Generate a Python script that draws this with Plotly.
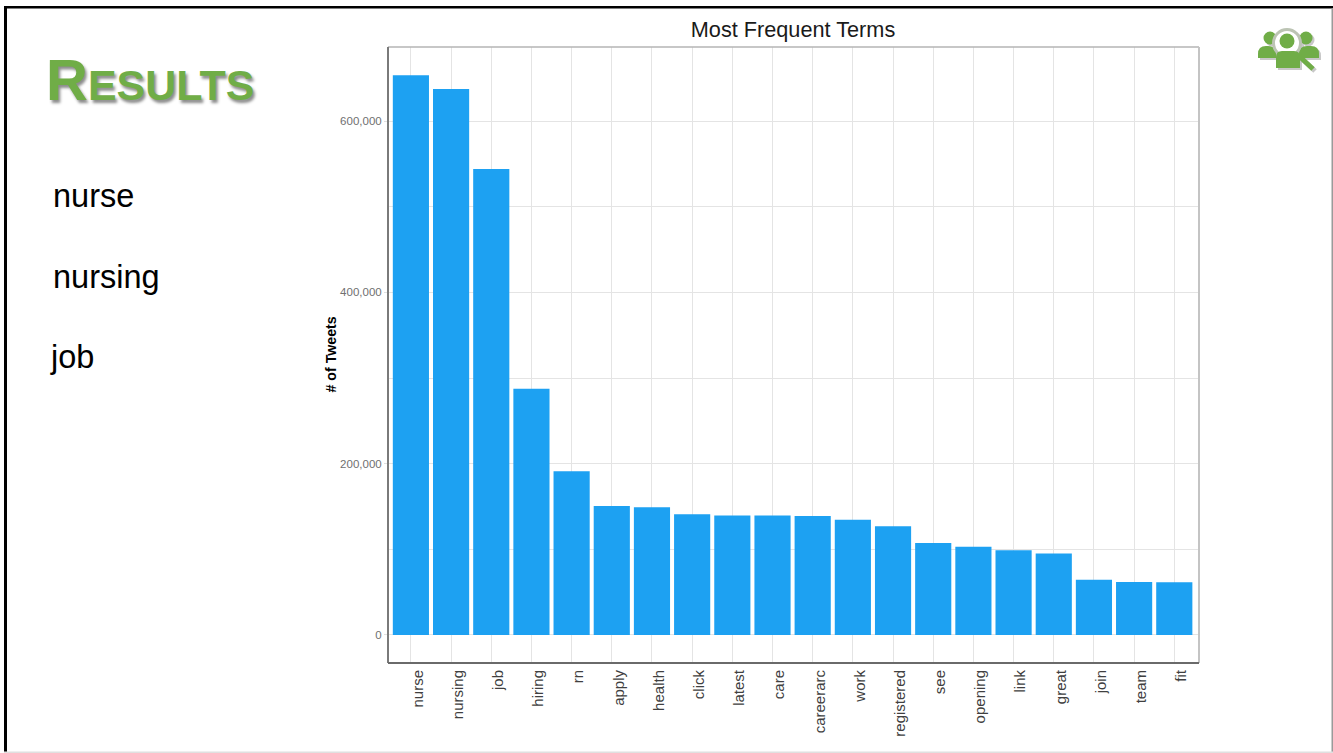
import plotly.graph_objects as go

W, H = 1333, 753
# Plot rectangle in page pixels
L, R, T, B = 388, 1199, 47, 663

terms = ["nurse", "nursing", "job", "hiring", "rn", "apply", "health", "click", "latest", "care",
         "careerarc", "work", "registered", "see", "opening", "link", "great", "join", "team", "fit"]
tweets = [653500, 637500, 544000, 287500, 191000, 150500, 149000, 141000, 139500, 139500,
          139000, 134500, 127000, 107500, 103000, 99000, 95000, 64500, 62000, 61500]
y_ticks = [0, 200000, 400000, 600000]
y_tick_labels = ["0", "200,000", "400,000", "600,000"]
highlights = ["nurse", "nursing", "job"]
highlight_x = [51, 51, 48]
highlight_y = [196, 277, 357]
GREEN = "#70AD47"


def px(x):
    return (x - L) / (R - L)


def py(y):
    return (B - y) / (B - T)


def rect(x0, y0, x1, y1, color):
    return dict(type="rect", xref="paper", yref="paper", x0=px(x0), x1=px(x1), y0=py(y0), y1=py(y1),
                fillcolor=color, line_width=0, layer="above")


def disc(cx, cy, r, fill, line=None, width=0):
    return dict(type="circle", xref="paper", yref="paper", x0=px(cx - r), x1=px(cx + r),
                y0=py(cy + r), y1=py(cy - r), fillcolor=fill,
                line=dict(color=line or fill, width=width), layer="above")


def seg(x0, y0, x1, y1, color, width):
    return dict(type="line", xref="paper", yref="paper", x0=px(x0), x1=px(x1), y0=py(y0), y1=py(y1),
                line=dict(color=color, width=width), layer="above")


def blob(x0, y0, x1, y1, fill, r):
    # Shoulder outline: rounded top corners over a flat base
    path = (f"M {px(x0)} {py(y1)} L {px(x0)} {py(y0 + r)} Q {px(x0)} {py(y0)} {px(x0 + r)} {py(y0)} "
            f"L {px(x1 - r)} {py(y0)} Q {px(x1)} {py(y0)} {px(x1)} {py(y0 + r)} L {px(x1)} {py(y1)} Z")
    return dict(type="path", xref="paper", yref="paper", path=path, fillcolor=fill, line_width=0, layer="above")


def icon(dx, dy, green, ring, hole):
    return [
        disc(1270 + dx, 38 + dy, 6.5, green),
        disc(1306 + dx, 38 + dy, 6.5, green),
        blob(1258 + dx, 46 + dy, 1276 + dx, 58 + dy, green, 8),
        blob(1299 + dx, 46 + dy, 1319 + dx, 58 + dy, green, 8),
        disc(1287 + dx, 43 + dy, 13.5, hole, ring, 3),
        disc(1287 + dx, 41 + dy, 7.5, green),
        blob(1276 + dx, 51 + dy, 1300 + dx, 68 + dy, green, 6),
        seg(1299 + dx, 56 + dy, 1313 + dx, 69 + dy, green, 5),
    ]


shapes = [
    # Slide frame
    rect(4, 6, 7, 753, "#000000"),
    rect(4, 6, W, 8.5, "#000000"),
    rect(1331.5, 8, W, 753, "#9a9a9a"),
    rect(4, 751.5, W, 753, "#e0e0e0"),
    # Panel outline, with heavier left and bottom axes
    seg(L, T, R, T, "#b4b4b4", 1.5),
    seg(R, T, R, B, "#c4c4c4", 2),
    seg(L, T, L, B, "#7a7a7a", 2),
    seg(L, B, R, B, "#6a6a6a", 2),
]
shapes += icon(2, 2, "#c8c8c8", "#c8c8c8", "#c8c8c8")
shapes += icon(0, 0, GREEN, "#bcc4b4", "#ffffff")

annotations = [
    dict(text='<span style="font-size:58px">R</span>ESULTS', x=px(44), y=py(114), xanchor="left", yanchor="bottom",
         xref="paper", yref="paper", showarrow=False,
         font=dict(family="Liberation Sans", size=43, color=GREEN, weight="bold", shadow="2px 3px 3px #8c8c8c")),
    dict(text="# of Tweets", x=px(330.5), y=py(355), xanchor="center", yanchor="middle",
         xref="paper", yref="paper", showarrow=False, textangle=-90,
         font=dict(family="Liberation Sans", size=14.2, color="#000000", weight="bold")),
]
for term, xl, yc in zip(highlights, highlight_x, highlight_y):
    annotations.append(dict(text=term, x=px(xl), y=py(yc), xanchor="left", yanchor="middle",
                            xref="paper", yref="paper", showarrow=False,
                            font=dict(family="Liberation Sans", size=32.5, color="#000000")))

fig = go.Figure(go.Bar(x=terms, y=tweets, width=0.9, marker=dict(color="#1DA1F2", line_width=0)))

fig.update_layout(
    width=W, height=H, autosize=False,
    margin=dict(l=L, r=W - R, t=T, b=H - B),
    paper_bgcolor="#ffffff", plot_bgcolor="#ffffff",
    showlegend=False,
    title=dict(text="Most Frequent Terms", x=px(793), xref="paper", xanchor="center", y=1 - 29 / H, yanchor="middle",
               font=dict(family="Liberation Sans", size=21.7, color="#1a1a1a")),
    shapes=shapes, annotations=annotations,
)
fig.update_xaxes(
    range=[-0.57, 19.615], tickangle=-90, ticklabelshift=7, ticklabelstandoff=3,
    showgrid=True, gridcolor="#e4e4e4", gridwidth=1,
    showline=False, zeroline=False, ticks="", ticklen=0,
    tickfont=dict(family="Liberation Sans", size=15, color="#404040"),
)
fig.update_yaxes(
    range=[-32700, 686400], tickvals=y_ticks, ticktext=y_tick_labels,
    showgrid=True, gridcolor="#e4e4e4", gridwidth=1,
    minor=dict(dtick=100000, tick0=0, showgrid=True, gridcolor="#e4e4e4", gridwidth=1),
    showline=False, zeroline=False, ticks="outside", ticklen=3, tickcolor="#e0e0e0",
    tickfont=dict(family="Liberation Sans", size=11.5, color="#707070"),
)

fig.write_html("out.html")
